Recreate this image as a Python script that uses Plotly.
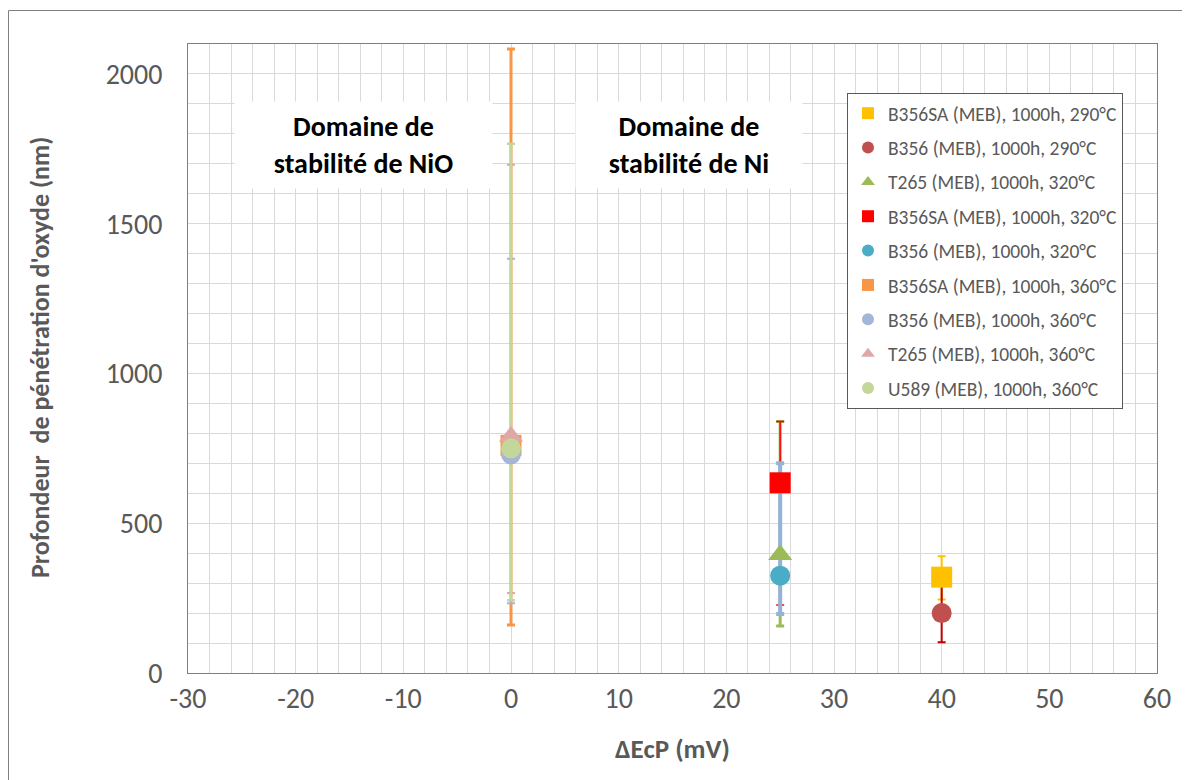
import plotly.graph_objects as go

# ---- data ----
series_names = [
    "B356SA (MEB), 1000h, 290°C",
    "B356 (MEB), 1000h, 290°C",
    "T265 (MEB), 1000h, 320°C",
    "B356SA (MEB), 1000h, 320°C",
    "B356 (MEB), 1000h, 320°C",
    "B356SA (MEB), 1000h, 360°C",
    "B356 (MEB), 1000h, 360°C",
    "T265 (MEB), 1000h, 360°C",
    "U589 (MEB), 1000h, 360°C",
]
x_values = [40, 40, 25, 25, 25, 0, 0, 0, 0]
y_values = [320, 200, 395, 635, 325, 760, 730, 790, 750]
err_plus = [70, 100, 445, 205, 375, 1323, 653, 907, 1017]
err_minus = [75, 97, 238, 408, 128, 600, 497, 523, 507]

marker_colors = ["#FFC000", "#C0504D", "#9BBB59", "#FF0000", "#4BACC6",
                 "#F79646", "#A5B5DA", "#DFA7A6", "#C4D79B"]
marker_symbols = ["square", "circle", "triangle-up", "square", "circle",
                  "square", "circle", "triangle-up", "circle"]
err_colors = ["#FFC000", "#C00000", "#9BBB59", "#FF0000", "#95B3D7",
              "#F79646", "#A5B5DA", "#DFA7A6", "#C4D79B"]
err_thick = [2, 2, 3, 1.5, 4, 3, 2, 2, 2.5]

x_ticks = [-30, -20, -10, 0, 10, 20, 30, 40, 50, 60]
x_tick_labels = ["-30", "-20", "-10", "0", "10", "20", "30", "40", "50", "60"]
y_ticks = [0, 500, 1000, 1500, 2000]

FONT = "Carlito, Lato, 'Open Sans', sans-serif"

# page has an 8px body margin: figure occupies (8,8)-(1190,780)
OX, OY = 8, 8
PL, PR, PT, PB = 188, 1157, 44, 673  # plot area in page pixels
PW, PH = PR - PL, PB - PT


def px(xp):
    return (xp - PL) / PW


def py(yp):
    return (PB - yp) / PH


fig = go.Figure()

# error bars first (so that markers are drawn on top)
for i in range(len(series_names)):
    fig.add_trace(go.Scatter(
        x=[x_values[i]], y=[y_values[i]], mode="markers",
        marker=dict(size=1, opacity=0),
        error_y=dict(type="data", symmetric=False,
                     array=[err_plus[i]], arrayminus=[err_minus[i]],
                     color=err_colors[i], thickness=err_thick[i], width=4),
        showlegend=False, hoverinfo="skip"))

for i in range(len(series_names)):
    sz = 21 if marker_symbols[i] != "circle" else 20
    fig.add_trace(go.Scatter(
        x=[x_values[i]], y=[y_values[i]], mode="markers",
        name=series_names[i], legendgroup=str(i),
        marker=dict(color=marker_colors[i], symbol=marker_symbols[i], size=sz,
                    line=dict(width=0))))

grid_c = "#D9D9D9"
fig.update_xaxes(range=[-30, 60], tickvals=x_ticks, ticktext=x_tick_labels,
                 showgrid=True, gridcolor=grid_c, gridwidth=1,
                 minor=dict(dtick=2, showgrid=True, gridcolor=grid_c, gridwidth=1),
                 showline=True, linecolor="#7F7F7F", linewidth=1, mirror=True,
                 zeroline=False, ticks="",
                 tickfont=dict(family=FONT, size=28, color="#595959"),
                 ticklabelstandoff=0)
fig.update_yaxes(range=[0, 2100], tickvals=y_ticks,
                 showgrid=True, gridcolor=grid_c, gridwidth=1,
                 minor=dict(dtick=100, showgrid=True, gridcolor=grid_c, gridwidth=1),
                 showline=True, linecolor="#7F7F7F", linewidth=1, mirror=True,
                 zeroline=False, ticks="",
                 tickfont=dict(family=FONT, size=28, color="#595959"),
                 ticklabelstandoff=19)

annotations = [
    dict(text="<b>ΔEcP (mV)</b>", xref="paper", yref="paper", x=px(672), y=py(748),
         xanchor="center", yanchor="middle", showarrow=False,
         font=dict(family=FONT, size=27, color="#595959")),
    dict(text="<b>Profondeur  de pénétration d'oxyde (nm)</b>", xref="paper", yref="paper",
         x=px(40), y=py(358), xanchor="center", yanchor="middle", textangle=-90,
         showarrow=False, font=dict(family=FONT, size=26, color="#595959")),
    dict(text="<b>Domaine de<br>stabilité de NiO</b>", xref="paper", yref="paper",
         x=px(363.5), y=py(145.5), xanchor="center", yanchor="middle",
         showarrow=False, bgcolor="white", width=255, height=84,
         font=dict(family=FONT, size=28, color="black")),
    dict(text="<b>Domaine de<br>stabilité de Ni</b>", xref="paper", yref="paper",
         x=px(689), y=py(145.5), xanchor="center", yanchor="middle",
         showarrow=False, bgcolor="white", width=224, height=84,
         font=dict(family=FONT, size=28, color="black")),
]

# outer chart frame (left and top edges visible within the page)
shapes = [
    dict(type="line", xref="paper", yref="paper",
         x0=px(8.5), x1=px(8.5), y0=py(790), y1=py(10.5),
         line=dict(color="#808080", width=1), layer="below"),
    dict(type="line", xref="paper", yref="paper",
         x0=px(8.5), x1=px(1200), y0=py(10.5), y1=py(10.5),
         line=dict(color="#808080", width=1), layer="below"),
]

fig.update_layout(
    width=1190 - OX, height=780 - OY,
    margin=dict(l=PL - OX, r=1190 - PR, t=PT - OY, b=780 - PB),
    paper_bgcolor="white", plot_bgcolor="white",
    font=dict(family=FONT, color="#595959"),
    annotations=annotations, shapes=shapes,
    legend=dict(x=px(847), y=py(93), xanchor="left", yanchor="top",
                bgcolor="white", bordercolor="#595959", borderwidth=1,
                font=dict(family=FONT, size=19.5, color="#595959"),
                traceorder="grouped", tracegroupgap=6, itemsizing="constant",
                itemwidth=30),
)

fig.write_html("out.html")
